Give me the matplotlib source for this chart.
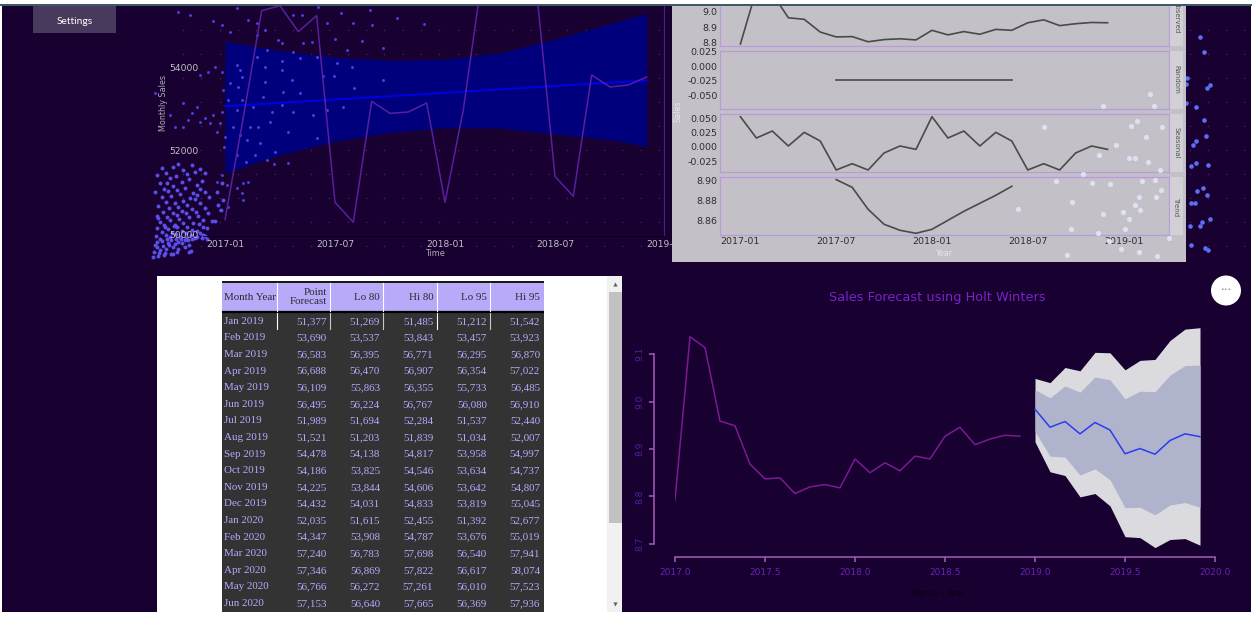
import matplotlib
matplotlib.use("Agg")
import matplotlib.pyplot as plt
from matplotlib.patches import Rectangle, Circle
import numpy as np

W, H = 1252, 620
BG = "#180030"

# monthly sales shown in the top left chart
sales_months = list(range(24))
monthly_sales = [50344, 52800, 55360, 55480, 54856, 55240, 50760, 50280, 53184, 52896, 52928, 53144,
                 50760, 52984, 56100, 57500, 57300, 55820, 51384, 50904, 53816, 53528, 53576, 53768]
ribbon_months = [0, 3, 6, 9, 12, 15, 18, 21, 23]
ribbon_hi = [54624, 54400, 54240, 54168, 54192, 54344, 54680, 55048, 55288]
ribbon_lo = [51464, 51904, 52224, 52440, 52552, 52544, 52400, 52264, 52104]
fit_months = [0, 23]
fit_sales = [53064, 53688]
sales_ticks = [50000, 52000, 54000]
month_ticks = [0, 6, 12, 18, 24]
month_labels = ["2017-01", "2017-07", "2018-01", "2018-07", "2019-01"]

# decomposition panels
observed = [8.792, 9.137, 9.114, 8.959, 8.949, 8.868, 8.837, 8.839, 8.806, 8.820, 8.825, 8.818,
            8.879, 8.850, 8.871, 8.854, 8.885, 8.879, 8.927, 8.946, 8.909, 8.921, 8.929, 8.927]
random_part = [-0.0231] * 12
seasonal = [0.0523, 0.0151, 0.0273, 0.0012, 0.0250, 0.0099, -0.0407, -0.0297, -0.0407, -0.0110, 0.0012, -0.0047,
            0.0523, 0.0151, 0.0273, 0.0012, 0.0250, 0.0099, -0.0407, -0.0297, -0.0407, -0.0110, 0.0012, -0.0047]
trend = [8.9007, 8.893, 8.871, 8.856, 8.850, 8.847, 8.851, 8.860, 8.869, 8.877, 8.885, 8.894]
trend_months = list(range(6, 18))

# holt winters forecast
forecast_years = [2019 + i / 12 for i in range(12)]
history_years = [2017 + i / 12 for i in range(24)]
fc_mean = [8.984, 8.946, 8.958, 8.932, 8.956, 8.940, 8.890, 8.901, 8.889, 8.918, 8.932, 8.926]
fc_hi80 = [9.025, 9.008, 9.033, 9.020, 9.052, 9.046, 9.006, 9.022, 9.021, 9.056, 9.076, 9.077]
fc_lo80 = [8.937, 8.885, 8.883, 8.845, 8.858, 8.835, 8.776, 8.777, 8.761, 8.782, 8.787, 8.777]
fc_hi95 = [9.049, 9.040, 9.072, 9.065, 9.104, 9.103, 9.067, 9.087, 9.089, 9.129, 9.153, 9.156]
fc_lo95 = [8.915, 8.852, 8.844, 8.799, 8.806, 8.780, 8.715, 8.713, 8.692, 8.709, 8.711, 8.697]

# forecast table
table_months = ["Jan 2019", "Feb 2019", "Mar 2019", "Apr 2019", "May 2019", "Jun 2019", "Jul 2019", "Aug 2019",
                "Sep 2019", "Oct 2019", "Nov 2019", "Dec 2019", "Jan 2020", "Feb 2020", "Mar 2020", "Apr 2020",
                "May 2020", "Jun 2020"]
point_forecast = ["51,377", "53,690", "56,583", "56,688", "56,109", "56,495", "51,989", "51,521", "54,478",
                  "54,186", "54,225", "54,432", "52,035", "54,347", "57,240", "57,346", "56,766", "57,153"]
lo_80 = ["51,269", "53,537", "56,395", "56,470", "55,863", "56,224", "51,694", "51,203", "54,138",
         "53,825", "53,844", "54,031", "51,615", "53,908", "56,783", "56,869", "56,272", "56,640"]
hi_80 = ["51,485", "53,843", "56,771", "56,907", "56,355", "56,767", "52,284", "51,839", "54,817",
         "54,546", "54,606", "54,833", "52,455", "54,787", "57,698", "57,822", "57,261", "57,665"]
lo_95 = ["51,212", "53,457", "56,295", "56,354", "55,733", "56,080", "51,537", "51,034", "53,958",
         "53,634", "53,642", "53,819", "51,392", "53,676", "56,540", "56,617", "56,010", "56,369"]
hi_95 = ["51,542", "53,923", "56,870", "57,022", "56,485", "56,910", "52,440", "52,007", "54,997",
         "54,737", "54,807", "55,045", "52,677", "55,019", "57,941", "58,074", "57,523", "57,936"]
table_headers = ["Month Year", "Point\nForecast", "Lo 80", "Hi 80", "Lo 95", "Hi 95"]

# background particles (left group in 3x crop units)
dots_left_x = [85, 120, 188, 215, 262, 240, 295, 320, 322, 345, 385, 395, 430, 457, 505, 530, 573, 610, 660, 667,
               742, 822, 555, 637, 700, 590, 460, 487, 430, 350, 320, 395, 450, 500, 560, 605, 552, 612, 700, 520,
               425, 395, 345, 260, 270, 275, 240, 265, 215, 195, 175, 150, 220, 340, 310, 260, 235, 275, 365, 395,
               430, 490, 530, 578, 450, 400, 345, 325, 300, 270, 290, 250, 225, 330, 375, 415, 500, 360, 315, 288,
               373, 413, 350, 262, 222, 200, 180, 210, 190, 215, 150, 165, 140, 125, 115, 100, 100, 75, 60, 15,
               200, 215, 230, 260, 280, 295, 275, 280, 235, 210]
dots_left_y = [35, 45, 63, 75, 25, 95, 60, 70, 105, 90, 120, 130, 45, 45, 22, 68, 40, 70, 30, 75,
               53, 72, 118, 122, 143, 150, 130, 127, 155, 150, 170, 183, 175, 170, 190, 200, 228, 265, 240, 228,
               240, 210, 200, 195, 210, 230, 250, 262, 215, 200, 215, 225, 270, 290, 320, 330, 300, 300, 335, 315,
               335, 345, 330, 320, 280, 275, 245, 380, 380, 405, 420, 380, 410, 430, 455, 395, 415, 365, 465, 485,
               492, 488, 480, 465, 440, 395, 370, 370, 345, 335, 365, 355, 320, 340, 360, 310, 380, 380, 345, 280,
               545, 525, 555, 565, 550, 545, 580, 600, 620, 630]
# dense lower left group, crop starting at (150, 160), 3x
dots_dense_x = [35, 70, 85, 100, 125, 135, 22, 48, 60, 78, 110, 150, 165, 50, 30, 42, 70, 95, 118, 140,
                155, 15, 55, 80, 105, 128, 150, 35, 62, 90, 120, 142, 165, 48, 75, 100, 135, 25, 58, 85,
                110, 150, 178, 40, 68, 95, 125, 20, 50, 80, 108, 138, 165, 205, 30, 60, 88, 118, 145, 42,
                72, 100, 130, 160, 22, 55, 82, 112, 148, 185, 35, 65, 95, 125, 158, 18, 48, 78, 108, 140,
                170, 195, 30, 60, 90, 122, 150, 20, 45, 75, 105, 135, 165, 25, 55, 85, 115, 160, 175, 15,
                35, 50, 62, 78, 92, 108, 125, 140, 155, 170, 20, 40, 58, 75, 95, 118, 30, 48, 68, 85,
                105, 122, 12, 28, 45, 62, 80, 10, 25, 42, 70, 118, 215, 200, 220, 212]
dots_dense_y = [25, 22, 12, 30, 15, 35, 45, 40, 55, 48, 42, 28, 40, 70, 68, 88, 78, 65, 58, 75,
                62, 95, 92, 90, 85, 98, 88, 112, 108, 102, 115, 105, 95, 125, 130, 122, 118, 138, 145, 142,
                135, 128, 112, 155, 160, 152, 148, 168, 172, 165, 160, 155, 145, 135, 185, 180, 178, 172, 168, 195,
                198, 190, 188, 180, 205, 208, 202, 200, 192, 182, 215, 220, 212, 210, 200, 228, 225, 222, 218, 212,
                205, 182, 238, 232, 230, 225, 218, 245, 202, 195, 240, 235, 228, 175, 248, 246, 240, 225, 160, 255,
                242, 238, 240, 236, 238, 235, 238, 232, 234, 236, 262, 258, 255, 252, 250, 255, 270, 268, 262, 266,
                262, 272, 275, 280, 278, 282, 275, 290, 288, 285, 282, 275, 68, 95, 120, 150]
dots_right_x = [1200, 1204, 1187, 1186, 1207, 1210, 1196, 1186, 1204, 1206, 1196, 1193, 1191, 1196, 1208, 1203,
                1197, 1207, 1191, 1195, 1210, 1202, 1200, 1190, 1191, 1205, 1208]
dots_right_y = [37, 52, 78, 84, 88, 85, 107, 103, 120, 136, 141, 145, 166, 163, 165, 188,
                191, 195, 203, 203, 219, 222, 226, 226, 245, 248, 250]
dots_light_x = [1150, 1103, 1154, 1131, 1137, 1162, 1146, 1116, 1099, 1129, 1135, 1148, 1160, 1083, 1142, 1092,
                1110, 1155, 1161, 1156, 1139, 1072, 1135, 1123, 1103, 1129, 1140, 1071, 1125, 1098, 1109, 1121,
                1139, 1067, 1157, 1169, 1044, 1056, 1018]
dots_light_y = [94, 106, 106, 126, 121, 127, 137, 145, 155, 158, 158, 162, 170, 174, 181, 183,
                184, 180, 190, 197, 197, 202, 205, 212, 214, 219, 210, 229, 229, 233, 241, 249,
                252, 255, 256, 238, 127, 181, 209]


def px_axes(fig, x0, y0, x1, y1, **kw):
    # axes from screenshot pixel box, y measured from the top
    return fig.add_axes([x0 / W, 1 - y1 / H, (x1 - x0) / W, (y1 - y0) / H], **kw)


fig = plt.figure(figsize=(W / 100, H / 100), dpi=100, facecolor="white")

# page background
back = px_axes(fig, 0, 0, W, H, zorder=0)
back.set_xlim(0, W)
back.set_ylim(H, 0)
back.axis("off")
back.add_patch(Rectangle((2, 5), W - 3, 606.5, color=BG, lw=0))
back.add_patch(Rectangle((0, 4), W, 2, color="#3f5a66", lw=0))
back.add_patch(Rectangle((33, 6), 83, 27, color="#483a5c", lw=0))
back.text(75, 21.5, "Settings", color="white", fontsize=7.4, family="Lato", ha="center", va="center")
grid_x, grid_y = np.meshgrid(np.arange(183, W, 18.3), np.arange(30, 255, 24))
back.scatter(grid_x.ravel(), grid_y.ravel(), s=1.2, color="#3d2c58", lw=0)

# top left chart: ribbon goes under the particles, lines and labels over them
ribbon_ax = px_axes(fig, 203, 6, 665, 236, zorder=1)
ribbon_ax.patch.set_visible(False)
ribbon_ax.axis("off")
ribbon_ax.set_xlim(-1.2, 24)
ribbon_ax.set_ylim(49952, 55472)
ribbon_ax.fill_between(ribbon_months, ribbon_lo, ribbon_hi, color="#00007d", lw=0)

dots_ax = px_axes(fig, 0, 0, W, H, zorder=1.2)
dots_ax.patch.set_visible(False)
dots_ax.axis("off")
dots_ax.set_xlim(0, W)
dots_ax.set_ylim(H, 0)
dots_ax.scatter([150 + v / 3 for v in dots_left_x], [v / 3 for v in dots_left_y], s=4.5, color="#4a3fe0", lw=0)
dots_ax.scatter([150 + v / 3 for v in dots_dense_x], [160 + v / 3 for v in dots_dense_y], s=8, color="#5a4fe8", lw=0)
dots_ax.scatter(dots_right_x, dots_right_y, s=11, color="#5f6cf5", lw=0)

ax1 = px_axes(fig, 203, 6, 665, 236, zorder=1.5)
ax1.patch.set_visible(False)
ax1.set_xlim(-1.2, 24)
ax1.set_ylim(49952, 55472)
ax1.plot(fit_months, fit_sales, color="#0000e6", lw=1.4)
ax1.plot(sales_months, monthly_sales, color="#5a1f9e", lw=1.1)
ax1.axvline(24, color="#4a1f8a", lw=1.6)
for s in ["top", "left", "right"]:
    ax1.spines[s].set_visible(False)
ax1.spines["bottom"].set_color("#0a0014")
ax1.spines["bottom"].set_linewidth(0.6)
ax1.set_xticks(month_ticks, month_labels)
ax1.set_yticks(sales_ticks, [str(v) for v in sales_ticks])
ax1.tick_params(length=0, labelsize=6.6, labelcolor="#c4c0c8", pad=3)

# decomposition block
PANEL_GREY = "#c4c0c8"
back2 = px_axes(fig, 672, 6, 1186, 262, zorder=2)
back2.set_facecolor(PANEL_GREY)
back2.set_xticks([])
back2.set_yticks([])
for s in back2.spines.values():
    s.set_visible(False)

panel_boxes = [(6, 45.7), (50.7, 109), (114, 172.3), (177, 235.3)]
panel_limits = [(8.781, 9.034), (-0.0723, 0.026), (-0.0447, 0.057), (8.845, 8.9033)]
panel_ticks = [[8.8, 8.9, 9.0], [-0.05, -0.025, 0.0, 0.025], [-0.025, 0.0, 0.025, 0.05], [8.86, 8.88, 8.90]]
panel_formats = ["%.1f", "%.3f", "%.3f", "%.2f"]
panel_series = [(sales_months, observed), (trend_months, random_part), (sales_months, seasonal), (trend_months, trend)]
strip_names = ["Observed", "Random", "Seasonal", "Trend"]

for i in range(4):
    y0, y1 = panel_boxes[i]
    ax = px_axes(fig, 719.5, y0, 1169, y1, zorder=3)
    ax.set_facecolor(PANEL_GREY)
    ax.set_xlim(-1.31, 26.85)
    ax.set_ylim(*panel_limits[i])
    ax.plot(panel_series[i][0], panel_series[i][1], color="#4a4a4a", lw=1.2)
    ax.set_yticks(panel_ticks[i], [panel_formats[i] % v for v in panel_ticks[i]])
    for s in ax.spines.values():
        s.set_color("#b99adb")
        s.set_linewidth(0.9)
    ax.spines["top"].set_visible(i > 0)
    if i == 3:
        ax.set_xticks(month_ticks, month_labels)
    else:
        ax.set_xticks([])
    ax.tick_params(length=0, labelsize=6.8, labelcolor="#2e2e2e", pad=1.5)

    strip = px_axes(fig, 1170, y0, 1183, y1, zorder=3)
    strip.set_facecolor("#d2d0d6")
    strip.set_xticks([])
    strip.set_yticks([])
    for s in strip.spines.values():
        s.set_visible(False)
    center = 0.72 if i == 0 else 0.5
    strip.text(0.5, center, strip_names[i], rotation=270, fontsize=5.0, color="#555555",
               ha="center", va="center", transform=strip.transAxes, clip_on=True)

# holt winters chart
ax3 = px_axes(fig, 675, 322, 1215, 549, zorder=1)
ax3.patch.set_visible(False)
ax3.set_xlim(2017, 2020)
ax3.set_ylim(8.689, 9.168)
ax3.fill_between(forecast_years, fc_lo95, fc_hi95, color="#dbdbdf", lw=0)
ax3.fill_between(forecast_years, fc_lo80, fc_hi80, color="#b0b3cc", lw=0)
ax3.plot(forecast_years, fc_mean, color="#2b3cf0", lw=1.1)
ax3.plot(history_years, observed, color="#7a1a94", lw=1.1)
for s in ["top", "right"]:
    ax3.spines[s].set_visible(False)
ax3.spines["left"].set_position(("outward", 15.1))
ax3.spines["bottom"].set_position(("outward", 5.8))
ax3.spines["left"].set_bounds(8.7, 9.1)
ax3.spines["bottom"].set_bounds(2017, 2020)
for s in ["left", "bottom"]:
    ax3.spines[s].set_color("#a45db8")
    ax3.spines[s].set_linewidth(1.1)
ax3.set_xticks([2017.0, 2017.5, 2018.0, 2018.5, 2019.0, 2019.5, 2020.0],
               ["2017.0", "2017.5", "2018.0", "2018.5", "2019.0", "2019.5", "2020.0"])
ax3.set_yticks([8.7, 8.8, 8.9, 9.0, 9.1], ["8.7", "8.8", "8.9", "9.0", "9.1"])
ax3.tick_params(axis="x", length=3.6, width=1.1, color="#a45db8", labelsize=6.5, labelcolor="#6a22b8", pad=4.5)
ax3.tick_params(axis="y", length=3.6, width=1.1, color="#a45db8", labelsize=6.5, labelcolor="#5a1ca0", pad=3)
for t in ax3.get_yticklabels():
    t.set_rotation(90)
    t.set_va("center")

# overlay in pixel coordinates for table, labels, light particles
top = px_axes(fig, 0, 0, W, H, zorder=5)
top.set_xlim(0, W)
top.set_ylim(H, 0)
top.axis("off")

top.text(164, 103, "Monthly Sales", rotation=90, fontsize=5.8, color="#b0acb8", ha="center", va="center")
top.text(435, 254, "Time", fontsize=5.8, color="#b0acb8", ha="center", va="center")
top.text(944, 254, "Year", fontsize=5.8, color="#e6e4ea", ha="center", va="center")
top.text(678, 111, "Sales", rotation=90, fontsize=5.8, color="#e6e4ea", ha="center", va="center")
top.text(937, 298, "Sales Forecast using Holt Winters", fontsize=9.3, color="#7a22c8", ha="center", va="center")
top.text(938, 594, "Month - Year", fontsize=6, color="#07000f", ha="center", va="center")

# three dots button
top.add_patch(Circle((1226, 290.5), 15, color="white", lw=0))
top.text(1226, 289.5, "•••", fontsize=4.5, color="#7d8fa8", ha="center", va="center")

# table panel
top.add_patch(Rectangle((157, 276), 465, 335.5, color="white", lw=0))
top.add_patch(Rectangle((607, 276), 15, 335.5, color="#f1f1f1", lw=0))
top.add_patch(Rectangle((608.5, 292), 13, 230.5, color="#c1c1c1", lw=0))
top.scatter([614.5], [284], marker="^", s=9, color="#606060", lw=0)
top.scatter([614.5], [604], marker="v", s=9, color="#606060", lw=0)

top.add_patch(Rectangle((222, 283), 321.7, 28, color="#b8aaf8", lw=0))
top.add_patch(Rectangle((222, 311), 321.7, 300.5, color="#333333", lw=0))
top.plot([222, 543.7], [282, 282], color="black", lw=1.3, solid_capstyle="butt")
top.plot([222, 543.7], [311.5, 311.5], color="black", lw=1.6, solid_capstyle="butt")

sep_x = [276.7, 330, 383.3, 436.7, 490]
sep_colors = ["white", "#c8c8c8", "#c8c8c8", "white", "#c8c8c8"]
for x, c in zip(sep_x, sep_colors):
    top.plot([x, x], [283, 311], color="white", lw=0.8)
    top.plot([x, x], [313, 329], color=c, lw=0.8)

text_right = [326.7, 380, 433.3, 486.7, 540]
columns = [point_forecast, lo_80, hi_80, lo_95, hi_95]
TABLE_FONT = dict(family="Liberation Serif", fontsize=7.9)
top.text(224, 297, table_headers[0], color="#2b2b33", ha="left", va="center", **TABLE_FONT)
for j in range(5):
    top.text(text_right[j], 297, table_headers[j + 1], color="#2b2b33", ha="right", va="center",
             linespacing=0.95, **TABLE_FONT)
for i, label in enumerate(table_months):
    row_y = 321.3 + i * 16.6
    top.text(224, row_y, label, color="#b6aaff", ha="left", va="center", **TABLE_FONT)
    for j in range(5):
        top.text(text_right[j], row_y, columns[j][i], color="#b6aaff", ha="right", va="center", **TABLE_FONT)

# light particles sit over the grey panel
top.scatter(dots_light_x, dots_light_y, s=14, color="#dfe0f4", lw=0)

fig.savefig("out.png", dpi=100, facecolor=fig.get_facecolor())
